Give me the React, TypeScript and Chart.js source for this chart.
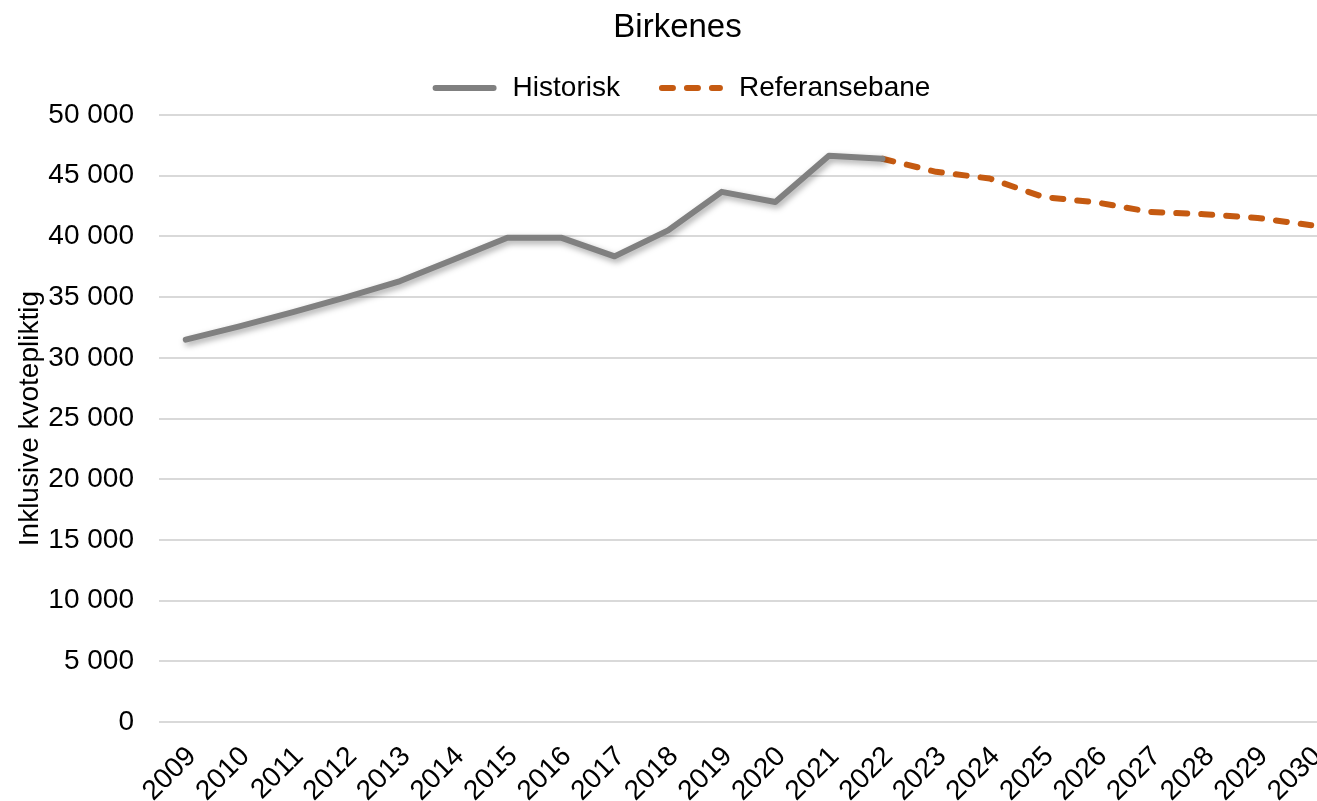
import { useEffect, useRef } from 'react';
import { Chart, registerables } from 'chart.js';

Chart.register(...registerables);

const years = ['2009', '2010', '2011', '2012', '2013', '2014', '2015', '2016', '2017', '2018', '2019', '2020', '2021', '2022', '2023', '2024', '2025', '2026', '2027', '2028', '2029', '2030'];
const historisk = [31500, 32600, 33770, 35000, 36330, 38100, 39900, 39900, 38360, 40500, 43670, 42840, 46650, 46400, null, null, null, null, null, null, null, null];
const referansebane = [null, null, null, null, null, null, null, null, null, null, null, null, null, 46400, 45320, 44770, 43250, 42800, 42020, 41830, 41520, 40920];

const FONT = "'Liberation Sans', Arial, sans-serif";
const W = 1355;
const H = 822;

const fmt = (v: number) => String(v).replace(/\B(?=(\d{3})+(?!\d))/g, ' ');

const shadowPlugin = {
  id: 'lineShadow',
  beforeDatasetDraw(chart: any, args: any) {
    const ctx = chart.ctx;
    ctx.save();
    if (args.index === 0) {
      ctx.shadowColor = 'rgba(0,0,0,0.35)';
      ctx.shadowBlur = 6;
      ctx.shadowOffsetX = 2;
      ctx.shadowOffsetY = 3;
    }
  },
  afterDatasetDraw(chart: any) {
    chart.ctx.restore();
  },
};

const legendPlugin = {
  id: 'customLegend',
  afterDraw(chart: any) {
    const ctx = chart.ctx;
    const lineLen = 64;
    const gap = 16;
    const spacing = 39;
    const y = 88;
    ctx.save();
    ctx.font = `28px ${FONT}`;
    ctx.textBaseline = 'middle';
    ctx.textAlign = 'left';
    const items = chart.data.datasets.map((ds: any) => ({ ds, tw: ctx.measureText(ds.label).width }));
    const total = items.reduce((s: number, it: any) => s + lineLen + gap + it.tw, 0) + spacing * (items.length - 1);
    let x = chart.width / 2 + 4 - total / 2;
    items.forEach((it: any) => {
      const ds = it.ds;
      ctx.save();
      ctx.strokeStyle = ds.borderColor;
      ctx.lineWidth = ds.borderWidth;
      ctx.lineCap = 'round';
      ctx.setLineDash(ds.borderDash || []);
      ctx.beginPath();
      ctx.moveTo(x + 3, y);
      ctx.lineTo(x + lineLen - 3, y);
      ctx.stroke();
      ctx.restore();
      ctx.fillStyle = '#000';
      ctx.fillText(ds.label, x + lineLen + gap, y);
      x += lineLen + gap + it.tw + spacing;
    });
    ctx.restore();
  },
};

export default function App() {
  const ref = useRef<HTMLCanvasElement>(null);
  useEffect(() => {
    const chart = new Chart(ref.current!, {
      type: 'line',
      data: {
        labels: years,
        datasets: [
          {
            label: 'Historisk',
            data: historisk,
            borderColor: '#808080',
            backgroundColor: '#808080',
            borderWidth: 6,
            borderCapStyle: 'round',
            borderJoinStyle: 'round',
            pointRadius: 0,
            tension: 0,
          },
          {
            label: 'Referansebane',
            data: referansebane,
            borderColor: '#C55A11',
            backgroundColor: '#C55A11',
            borderWidth: 6,
            borderDash: [11, 14],
            borderCapStyle: 'round',
            borderJoinStyle: 'round',
            pointRadius: 0,
            tension: 0,
          },
        ],
      },
      options: {
        responsive: false,
        animation: false,
        layout: { padding: { left: 17, right: 17, top: 0, bottom: 4 } },
        plugins: {
          title: {
            display: true,
            text: 'Birkenes',
            color: '#000',
            font: { family: FONT, size: 33, weight: 'normal' },
            padding: { top: 8, bottom: 67.4 },
          },
          legend: { display: false },
          tooltip: { enabled: false },
        },
        scales: {
          x: {
            type: 'category',
            offset: true,
            grid: { display: false },
            border: { display: false },
            ticks: {
              autoSkip: false,
              maxRotation: 45,
              minRotation: 45,
              padding: 10,
              labelOffset: 6,
              color: '#000',
              font: { family: FONT, size: 28 },
            },
          },
          y: {
            min: 0,
            max: 50000,
            afterFit: (scale: any) => {
              scale.width = 142;
            },
            grid: { color: '#d9d9d9', lineWidth: 2, drawTicks: false },
            border: { display: false },
            ticks: {
              stepSize: 5000,
              padding: 25,
              color: '#000',
              font: { family: FONT, size: 28 },
              callback: (v: any) => fmt(Number(v)),
            },
            title: {
              display: true,
              text: 'Inklusive kvotepliktig',
              color: '#000',
              font: { family: FONT, size: 28 },
              padding: { top: -4, bottom: 5 },
            },
          },
        },
      },
      plugins: [shadowPlugin, legendPlugin],
    } as any);
    return () => chart.destroy();
  }, []);
  return (
    <div style={{ position: 'fixed', left: 0, top: 0, width: 1317, height: 801, overflow: 'hidden', background: '#fff' }}>
      <canvas ref={ref} width={W} height={H} style={{ display: 'block' }} />
    </div>
  );
}
